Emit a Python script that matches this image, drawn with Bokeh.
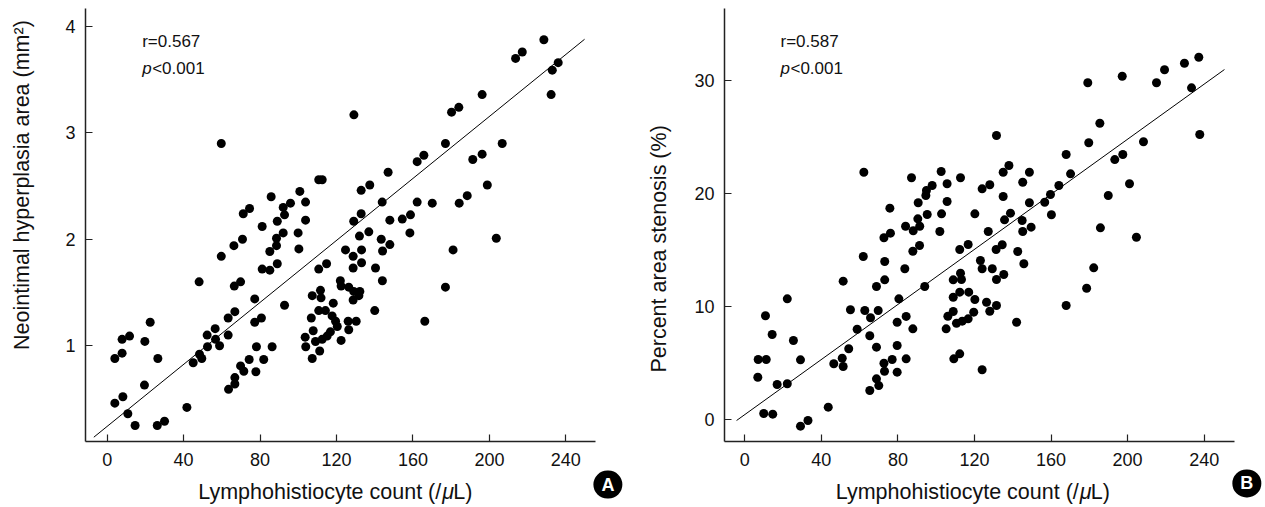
import math
from bokeh.plotting import figure
from bokeh.models import Range1d, FixedTicker, Label
from bokeh.layouts import row
from bokeh.embed import file_html
from bokeh.resources import INLINE

FONT = "Liberation Sans"

# ---------------- data: panel A ----------------
a_x = [4.0, 7.8, 7.8, 11.7, 19.7, 22.5, 26.5, 4.0, 8.2, 10.8, 14.6, 19.5, 26.2, 30.0, 41.7,
       45.0, 48.3, 49.5, 48.1, 52.3, 52.5, 56.5, 56.7, 58.8, 59.7, 63.3, 63.3, 66.8, 66.5, 69.8,
       66.3, 70.8, 63.5, 66.8, 66.8, 69.8, 71.5, 74.3, 77.8, 78.1, 81.9, 86.3, 77.2, 77.2, 80.7,
       92.8, 81.1, 85.1, 89.0, 85.1, 88.6, 88.6, 100.3, 99.9, 59.7,
       85.8, 100.8, 103.8, 95.9, 92.1, 92.8, 74.5, 71.2, 89.0, 81.1, 103.8, 92.1,
       110.7, 112.5, 165.7, 162.2, 147.0, 132.9, 137.4, 143.9, 162.2, 132.9, 129.0, 147.9, 154.4,
       158.7, 158.4, 132.0, 136.9, 143.4, 147.9, 144.1, 124.7, 128.7, 133.1, 133.1, 128.7, 140.4,
       110.7, 114.8, 129.1, 144.0,
       122.0, 122.4, 126.4, 129.0, 132.2, 131.7, 128.7, 107.3, 111.6, 111.9, 118.3, 140.0, 110.7,
       114.2, 117.7, 119.5, 120.4, 116.8, 115.1, 112.5, 109.0, 106.8, 107.8, 103.6, 103.9, 107.3,
       111.2, 122.4, 126.4, 126.1, 130.3, 166.2, 177.0, 181.0,
       228.5, 213.7, 217.2, 236.0, 232.9, 232.3, 196.2, 180.2, 184.0, 177.0, 191.3, 196.2, 206.7,
       198.9, 184.2, 188.4, 170.1, 203.6]
a_y = [0.88, 0.93, 1.06, 1.09, 1.04, 1.22, 0.88, 0.46, 0.52, 0.36, 0.25, 0.63, 0.25, 0.29, 0.42,
       0.84, 0.92, 0.88, 1.60, 1.10, 0.99, 1.16, 1.06, 1.00, 1.84, 1.26, 1.10, 1.32, 1.56, 1.60,
       1.94, 2.00, 0.59, 0.64, 0.70, 0.81, 0.76, 0.87, 0.755, 0.99, 0.87, 0.99, 1.44, 1.22, 1.26,
       1.38, 1.72, 1.71, 1.77, 1.885, 1.94, 2.01, 1.91, 2.06, 2.90,
       2.40, 2.45, 2.35, 2.34, 2.30, 2.23, 2.29, 2.24, 2.17, 2.12, 2.18, 2.06,
       2.56, 2.56, 2.79, 2.73, 2.63, 2.46, 2.51, 2.35, 2.35, 2.24, 2.17, 2.18, 2.19,
       2.23, 2.06, 2.03, 2.07, 2.00, 1.95, 1.89, 1.90, 1.84, 1.90, 1.78, 1.73, 1.73,
       1.72, 1.77, 3.17, 1.61,
       1.61, 1.56, 1.55, 1.51, 1.51, 1.47, 1.43, 1.47, 1.52, 1.45, 1.40, 1.33, 1.33,
       1.33, 1.28, 1.23, 1.18, 1.13, 1.09, 1.06, 1.04, 1.26, 1.14, 1.08, 0.99, 0.88,
       0.95, 1.05, 1.15, 1.23, 1.23, 1.23, 1.55, 1.90,
       3.875, 3.70, 3.76, 3.66, 3.59, 3.36, 3.36, 3.195, 3.24, 2.90, 2.75, 2.80, 2.90,
       2.51, 2.34, 2.41, 2.34, 2.01]
a_fit_x = [-7.0, 249.8]
a_fit_y = [0.14, 3.88]

# ---------------- data: panel B ----------------
b_x = [6.8, 7.0, 11.2, 10.8, 14.3, 9.9, 14.6, 16.9, 22.2, 22.2, 25.4, 29.1, 29.1, 33.0, 43.6,
       46.5, 50.9, 51.4, 54.3, 51.4, 55.2, 58.7, 61.9, 62.7, 65.7, 69.7, 65.3, 68.8, 65.3, 68.8,
       70.0, 68.8, 73.1, 73.1, 72.7, 76.1, 72.7, 73.0, 77.0, 79.6, 79.6, 79.6, 80.5, 84.3, 84.3,
       87.8, 83.6, 87.8, 91.3, 94.0,
       62.2, 75.8, 87.1, 94.9, 97.9, 94.6, 102.6, 105.7, 90.6, 105.7, 95.3, 90.4, 88.0, 91.4, 84.0,
       102.8, 101.9,
       105.2, 106.1, 108.9, 110.6, 113.6, 116.7, 119.6, 108.9, 112.3, 117.0, 120.2, 108.9, 112.7,
       113.2, 109.2, 112.3, 124.0, 126.3, 128.0, 131.5, 123.1, 124.0, 129.3, 131.5, 135.3, 142.0,
       145.8, 167.9, 112.3, 116.7, 131.3, 134.5, 142.6, 178.6, 182.3, 204.6,
       112.7, 131.5, 124.0, 128.0, 135.0, 138.0, 148.7, 145.2, 135.0, 120.2, 138.8, 135.7, 144.9,
       148.7, 149.6, 145.2, 127.2, 156.7, 159.7, 164.1, 160.2, 167.9, 170.2, 185.8, 237.2, 229.7,
       219.3, 215.1, 233.4, 197.2, 179.2, 237.7, 185.5, 179.7, 208.3, 193.3, 197.5, 201.0, 189.9]
b_y = [3.74, 5.31, 5.31, 9.18, 7.52, 0.53, 0.47, 3.10, 3.16, 10.68, 6.99, 5.28, -0.59, -0.09, 1.09,
       4.93, 5.42, 4.69, 6.26, 12.24, 9.71, 7.99, 14.42, 9.65, 9.00, 9.65, 7.41, 6.40, 2.57, 3.60,
       3.00, 11.77, 12.36, 13.98, 16.08, 16.49, 4.98, 4.27, 5.31, 4.19, 6.55, 8.61, 10.68, 9.12, 5.37,
       8.02, 13.34, 14.89, 15.40, 11.77,
       21.88, 18.70, 21.39, 20.27, 20.71, 19.82, 21.95, 20.86, 19.18, 19.29, 18.14, 17.76, 16.70,
       17.10, 17.10, 18.20, 16.64,
       8.02, 9.14, 9.56, 8.52, 8.70, 8.91, 9.50, 10.82, 11.27, 11.27, 10.62, 12.36, 12.95,
       12.39, 5.37, 5.81, 4.40, 10.38, 9.58, 10.09, 14.07, 13.34, 13.34, 12.39, 12.83, 8.61,
       13.78, 10.09, 15.04, 15.49, 15.04, 15.46, 14.87, 11.62, 13.42, 16.13,
       21.39, 25.13, 20.41, 20.77, 21.88, 22.48, 21.88, 21.00, 19.73, 18.20, 18.26, 17.67, 17.61,
       19.18, 17.02, 16.64, 16.64, 19.23, 19.91, 20.71, 18.12, 23.45, 21.74, 16.96, 32.06, 31.53,
       30.95, 29.80, 29.35, 30.38, 29.80, 25.22, 26.22, 24.49, 24.58, 23.00, 23.45, 20.86, 19.82]
b_fit_x = [-4.3, 250.6]
b_fit_y = [-0.09, 30.97]

x_ticks = [0, 40, 80, 120, 160, 200, 240]
a_y_ticks = [1, 2, 3, 4]
b_y_ticks = [0, 10, 20, 30]

x_title = "Lymphohistiocyte count (/"
x_title_mu = "\u03bc"
x_title_end = "L)"
a_y_title = "Neointimal hyperplasia area (mm\u00b2)"
b_y_title = "Percent area stenosis (%)"
a_r = "r=0.567"
b_r = "r=0.587"
p_text = "p"
p_rest = "<0.001"


def style_axes(p, yticks, x_loc, y_loc, x_bounds, y_bounds):
    for ax in (p.xaxis[0], p.yaxis[0]):
        ax.axis_line_color = "#222222"
        ax.axis_line_width = 1.5
        ax.major_tick_line_color = "#222222"
        ax.major_tick_line_width = 1.2
        ax.major_tick_in = 7
        ax.major_tick_out = 0
        ax.minor_tick_line_color = None
        ax.major_label_text_font = FONT
        ax.major_label_text_font_size = "18px"
        ax.major_label_text_color = "#111111"
    p.xaxis[0].ticker = FixedTicker(ticks=x_ticks)
    p.yaxis[0].ticker = FixedTicker(ticks=yticks)
    p.xaxis[0].fixed_location = x_loc
    p.yaxis[0].fixed_location = y_loc
    p.xaxis[0].bounds = x_bounds
    p.yaxis[0].bounds = y_bounds
    p.xaxis[0].major_label_standoff = 12
    p.yaxis[0].major_label_standoff = 10
    p.xgrid.visible = False
    p.ygrid.visible = False
    p.outline_line_color = None


def add_texts(p, xt_x, xt_y, yt_x, yt_y, ytitle, r_x, r_y, p_y, rtext, badge, bx, by):
    p.add_layout(Label(x=xt_x, y=xt_y, text=x_title, text_font=FONT, text_font_size="21.5px",
                       text_align="right", text_baseline="alphabetic", text_color="#111111"))
    p.add_layout(Label(x=xt_x, y=xt_y, text=x_title_mu, text_font=FONT, text_font_size="21.5px",
                       text_font_style="italic", text_align="left", text_baseline="alphabetic",
                       x_offset=1, text_color="#111111"))
    p.add_layout(Label(x=xt_x, y=xt_y, text=x_title_end, text_font=FONT, text_font_size="21.5px",
                       text_align="left", text_baseline="alphabetic", x_offset=12,
                       text_color="#111111"))
    p.add_layout(Label(x=yt_x, y=yt_y, text=ytitle, text_font=FONT, text_font_size="21.5px",
                       angle=math.pi / 2, text_align="center", text_baseline="middle",
                       text_color="#111111"))
    p.add_layout(Label(x=r_x, y=r_y, text=rtext, text_font=FONT, text_font_size="17px",
                       text_align="left", text_baseline="alphabetic", text_color="#111111"))
    p.add_layout(Label(x=r_x, y=p_y, text=p_text, text_font=FONT, text_font_size="17px",
                       text_font_style="italic", text_align="left", text_baseline="alphabetic",
                       text_color="#111111"))
    p.add_layout(Label(x=r_x, y=p_y, text=p_rest, text_font=FONT, text_font_size="17px",
                       text_align="left", text_baseline="alphabetic", x_offset=10,
                       text_color="#111111"))
    p.add_layout(Label(x=bx, y=by, text=badge, text_font=FONT, text_font_size="18px",
                       text_font_style="bold", text_color="white", text_align="center",
                       text_baseline="middle", background_fill_color="black",
                       border_radius=15, padding=dict(left=8, right=8, top=4, bottom=4)))


# ---------------- panel A ----------------
pa = figure(width=632, height=505, output_backend="svg", toolbar_location=None, title=None,
            x_range=Range1d(-55.83, 274.88), y_range=Range1d(-0.5019, 4.2444),
            min_border=0, min_border_left=0, min_border_right=0,
            min_border_top=0, min_border_bottom=0,
            background_fill_color="white", border_fill_color="white")
pa.line(a_fit_x, a_fit_y, line_color="black", line_width=1)
pa.scatter(a_x, a_y, size=9, fill_color="black", line_color=None)
style_axes(pa, a_y_ticks, 0.100, -11.36, (-11.36, 255.52), (0.100, 4.169))
add_texts(pa, 174.8, -0.372, -44.8, 2.51, a_y_title, 18.3, 3.857, 3.601, a_r, "A", 262.0, -0.305)

# ---------------- panel B ----------------
pb = figure(width=630, height=505, output_backend="svg", toolbar_location=None, title=None,
            x_range=Range1d(-58.67, 270.48), y_range=Range1d(-7.611, 37.08),
            min_border=0, min_border_left=0, min_border_right=0,
            min_border_top=0, min_border_bottom=0,
            background_fill_color="white", border_fill_color="white")
pb.line(b_fit_x, b_fit_y, line_color="black", line_width=1)
pb.scatter(b_x, b_y, size=9, fill_color="black", line_color=None)
style_axes(pb, b_y_ticks, -1.947, -10.61, (-10.61, 255.85), (-1.947, 36.37))
add_texts(pb, 174.5, -6.393, -44.6, 15.1, b_y_title, 18.65, 33.44, 31.02, b_r, "B", 262.3, -5.66)

layout = row(pa, pb)
open("out.html", "w").write(file_html(layout, INLINE))
